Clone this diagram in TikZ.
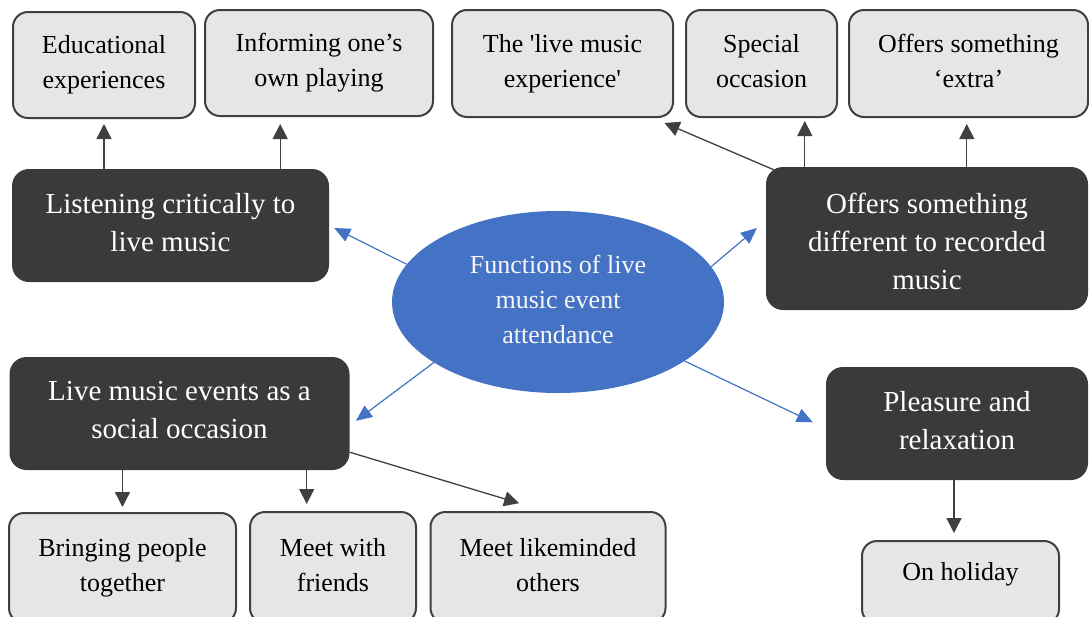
\documentclass[tikz,border=0pt]{standalone}
\usepackage{fontspec}
\setmainfont{Liberation Serif}
\usetikzlibrary{arrows.meta,shapes.geometric,calc}
\definecolor{darkfill}{HTML}{3B3A38}
\definecolor{lightfill}{HTML}{E6E6E6}
\definecolor{edgegray}{HTML}{404040}
\definecolor{hubblue}{HTML}{4472C4}
\begin{document}
\begin{tikzpicture}[x=1pt,y=-1pt,
  lightbox/.style={draw=edgegray, line width=2pt, fill=lightfill, rounded corners=15pt,
    align=center, inner sep=0pt, text=black, font=\fontsize{26}{35}\selectfont,
    execute at end node={\vphantom{g}}},
  darkbox/.style={fill=darkfill, rounded corners=17pt, align=center, inner sep=0pt,
    text=white, font=\fontsize{29}{38}\selectfont, execute at end node={\vphantom{g}}},
  hub/.style={ellipse, fill=hubblue, text=white!97!black, align=center, inner sep=0pt,
    font=\fontsize{26}{35}\selectfont, execute at end node={\vphantom{g}}},
  blk/.style={draw=edgegray, line width=1.3pt, -{Triangle[length=15pt,width=15pt]}},
  blu/.style={draw=hubblue, line width=1.2pt, -{Triangle[length=16pt,width=14pt]}}
]
\useasboundingbox (0,0) rectangle (1089,616);

% top row
\node[lightbox, minimum width=182pt, minimum height=106pt] (edu) at (104,65) {Educational\\experiences};
\node[lightbox, minimum width=228pt, minimum height=106pt] (inform) at (319,63) {Informing one’s\\own playing};
\node[lightbox, minimum width=221pt, minimum height=107pt] (livex) at (562.5,63.5) {The \textquotesingle live music\\experience\textquotesingle};
\node[lightbox, minimum width=151pt, minimum height=107pt] (special) at (761.5,63.5) {Special\\occasion};
\node[lightbox, minimum width=239pt, minimum height=107pt] (extra) at (968.5,63.5) {Offers something\\‘extra’};

% middle
\node[darkbox, minimum width=317pt, minimum height=113pt] (listen) at (170.5,225.5) {Listening critically to\\live music};
\node[darkbox, minimum width=322pt, minimum height=143pt] (odiff) at (927,238.5) {\rule{0pt}{33pt}Offers something\\different to recorded\\music};
\node[hub, minimum width=332pt, minimum height=182pt] (func) at (558,302) {Functions of live\\music event\\attendance};
\node[darkbox, minimum width=340pt, minimum height=113pt] (social) at (179.5,413.5) {Live music events as a\\social occasion};
\node[darkbox, minimum width=262pt, minimum height=113pt] (pleas) at (957,423.5) {Pleasure and\\relaxation};

% bottom row
\node[lightbox, minimum width=227pt, minimum height=110pt] (bring) at (122.5,568) {Bringing people\\together};
\node[lightbox, minimum width=166pt, minimum height=111pt] (friends) at (333,567.5) {Meet with\\friends};
\node[lightbox, minimum width=235pt, minimum height=111pt] (others) at (548,567.5) {Meet likeminded\\others};
\node[lightbox, minimum width=197pt, minimum height=83pt, text height=17.8pt, text depth=21pt] (holiday) at (960.5,582.5) {On holiday};

% blue connectors from the hub
\draw[blu, shorten >=5.6pt] (func.166) -- (listen.east);
\draw[blu, shorten >=11.6pt] (func.13) -- ([yshift=18pt]odiff.west);
\draw[blu, shorten >=7.8pt] (func.206) -- ([yshift=-12pt]social.east);
\draw[blu, shorten >=14.4pt] (func.-25) -- ([yshift=-5pt]pleas.west);

% black connectors
\coordinate (l2) at ([xshift=-49pt]listen.north east);
\coordinate (o0) at ([xshift=8pt,yshift=-3pt]odiff.north west);
\coordinate (o1) at ([xshift=39pt]odiff.north west);
\coordinate (o2) at ([xshift=201pt]odiff.north west);
\coordinate (s2) at ([xshift=-43pt]social.south east);
\coordinate (s3) at ([yshift=18pt]social.south east);
\coordinate (p1) at ([xshift=-3pt]pleas.south);

\draw[blk, shorten >=5pt] (edu.south |- listen.north) -- (edu.south);
\draw[blk, shorten >=7pt] (l2) -- (l2 |- inform.south);
\draw[blk, shorten >=12.5pt] (o0) -- ([xshift=-21pt]livex.south east);
\draw[blk, shorten >=3pt] (o1) -- (o1 |- special.south);
\draw[blk, shorten >=6pt] (o2) -- (o2 |- extra.south);
\draw[blk, shorten >=5pt] (bring.north |- social.south) -- (bring.north);
\draw[blk, shorten >=7pt] (s2) -- (s2 |- friends.north);
\draw[blk, shorten >=27pt] (s3) -- ([xshift=-3pt]others.north);
\draw[blk, shorten >=7pt] (p1) -- (p1 |- holiday.north);
\end{tikzpicture}
\end{document}
